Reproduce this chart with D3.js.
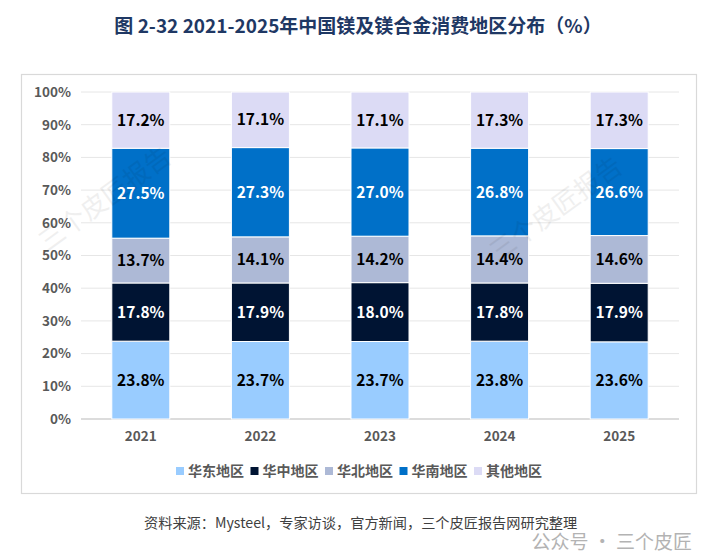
<!DOCTYPE html>
<html><head><meta charset="utf-8">
<script src="https://cdn.jsdelivr.net/npm/d3@7"></script>
<style>
body{margin:0;background:#fff;}
svg{display:block;font-family:"Noto Sans CJK SC","Noto Sans",sans-serif;}
</style></head>
<body>
<svg id="c" width="716" height="556"></svg>
<script>
const years = ["2021","2022","2023","2024","2025"];
const seriesNames = ["华东地区","华中地区","华北地区","华南地区","其他地区"];
const huadong = [23.8,23.7,23.7,23.8,23.6];
const huazhong = [17.8,17.9,18.0,17.8,17.9];
const huabei = [13.7,14.1,14.2,14.4,14.6];
const huanan = [27.5,27.3,27.0,26.8,26.6];
const qita = [17.2,17.1,17.1,17.3,17.3];
const yTicks = [0,10,20,30,40,50,60,70,80,90,100];
const colors = ["#99CCFF","#001433","#ADB9D6","#0070C8","#DCDBF5"];
const labelColors = ["#000","#fff","#000","#fff","#000"];

const seriesVals = [huadong,huazhong,huabei,huanan,qita];
const rows = years.map((y,i)=>{const r={year:y}; seriesNames.forEach((s,j)=>r[s]=seriesVals[j][i]); return r;});
const stack = d3.stack().keys(seriesNames)(rows);

const svg = d3.select("#c");
// title
svg.append("text").attr("x",358).attr("y",33).attr("text-anchor","middle")
  .attr("font-size",19).attr("font-weight",700).attr("fill","#1F3864")
  .text("图  2-32 2021-2025年中国镁及镁合金消费地区分布（%）");
// box
svg.append("rect").attr("x",21.5).attr("y",74.5).attr("width",675).attr("height",419)
  .attr("fill","#fff").attr("stroke","#D9D9D9").attr("stroke-width",1.2);

const x = d3.scaleBand().domain(years).range([81,679]).paddingInner(0.515).paddingOuter(0.2575);
const y = d3.scaleLinear().domain([0,100]).range([419,92]);

// grid
const g = svg.append("g");
g.selectAll("line.grid").data(yTicks).join("line")
  .attr("x1",81).attr("x2",679).attr("y1",d=>y(d)).attr("y2",d=>y(d))
  .attr("stroke",d=>d===0?"#D0D0D0":"#E6E6E6").attr("stroke-width",d=>d===0?1.3:1);

// y axis
const ya = svg.append("g").attr("transform","translate(81,0)")
  .call(d3.axisLeft(y).tickValues(yTicks).tickFormat(d=>d+"%").tickSize(0).tickPadding(10));
ya.select(".domain").remove();
ya.selectAll("text").attr("font-size",13.5).attr("font-weight",600).attr("fill","#595959")
  .attr("font-family","'Noto Sans CJK SC',sans-serif");

// x axis
const xa = svg.append("g").attr("transform","translate(0,419)")
  .call(d3.axisBottom(x).tickSize(0).tickPadding(12));
xa.select(".domain").remove();
xa.selectAll("text").attr("font-size",13.5).attr("font-weight",700).attr("fill","#595959")
  .attr("font-family","'Noto Sans CJK SC',sans-serif");

// bars
const layers = svg.append("g").selectAll("g").data(stack).join("g")
  .attr("fill",(d,i)=>colors[i]);
layers.selectAll("rect").data(d=>d).join("rect")
  .attr("x",d=>x(d.data.year)).attr("width",x.bandwidth())
  .attr("y",d=>y(Math.min(d[1],100))).attr("height",d=>y(d[0])-y(Math.min(d[1],100)))
  .attr("stroke","#fff").attr("stroke-width",1);

// labels
stack.forEach((layer,i)=>{
  svg.append("g").selectAll("text").data(layer).join("text")
    .attr("x",d=>x(d.data.year)+x.bandwidth()/2)
    .attr("y",d=>(y(d[0])+y(Math.min(d[1],100)))/2)
    .attr("dy","0.36em").attr("text-anchor","middle")
    .attr("font-size",15.5).attr("font-weight",700).attr("fill",labelColors[i])
    .text(d=>(d[1]-d[0]).toFixed(1)+"%");
});

// watermarks
[[47,252],[498,262]].forEach(([wx,wy])=>{
  svg.append("text").attr("transform",`translate(${wx},${wy}) rotate(-36)`)
    .attr("font-size",26).attr("fill","#000").attr("opacity",0.06).text("三个皮匠报告");
});

// legend
const leg = svg.append("g");
seriesNames.forEach((s,i)=>{
  const lx = 176 + i*74.5;
  const gg = leg.append("g").attr("transform",`translate(${lx},0)`);
  gg.append("rect").attr("x",0).attr("y",467).attr("width",8).attr("height",8).attr("fill",colors[i]);
  gg.append("text").attr("x",12).attr("y",476).attr("font-size",14).attr("font-weight",700)
    .attr("fill","#595959").text(s);
});

// source
svg.append("text").attr("x",144).attr("y",528).attr("font-size",14.2).attr("fill","#404040")
  .text("资料来源：Mysteel，专家访谈，官方新闻，三个皮匠报告网研究整理");
// bottom-right watermark
svg.append("text").attr("x",692).attr("y",549).attr("text-anchor","end").attr("font-size",19)
  .attr("fill","#9A9A9A").attr("opacity",0.75).text("公众号 · 三个皮匠");
</script>
</body></html>
